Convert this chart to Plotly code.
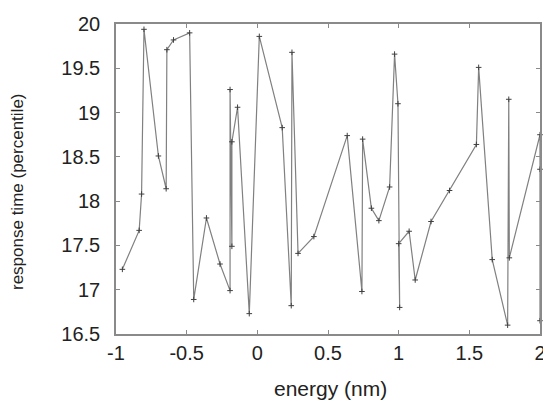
import plotly.graph_objects as go

energy = [-0.955, -0.836, -0.819, -0.802, -0.70, -0.645, -0.64, -0.593, -0.479, -0.45,
          -0.36, -0.264, -0.193, -0.193, -0.18, -0.18, -0.14, -0.057, 0.014, 0.176,
          0.24, 0.245, 0.288, 0.40, 0.636, 0.74, 0.745, 0.807, 0.86, 0.936,
          0.971, 0.995, 1.007, 1.0, 1.074, 1.117, 1.229, 1.36, 1.55, 1.566,
          1.662, 1.771, 1.779, 1.783, 2.0, 2.0, 2.0]
response = [17.23, 17.67, 18.08, 19.94, 18.51, 18.14, 19.71, 19.82, 19.90, 16.89,
            17.81, 17.29, 16.99, 19.26, 17.49, 18.67, 19.06, 16.73, 19.86, 18.83,
            16.82, 19.68, 17.41, 17.60, 18.74, 16.98, 18.70, 17.92, 17.78, 18.16,
            19.66, 19.10, 16.80, 17.52, 17.66, 17.11, 17.77, 18.12, 18.64, 19.51,
            17.34, 16.60, 19.15, 17.36, 18.75, 18.36, 16.65]

x_ticks = [-1, -0.5, 0, 0.5, 1, 1.5, 2]
y_ticks = [16.5, 17, 17.5, 18, 18.5, 19, 19.5, 20]
x_title = "energy (nm)"
y_title = "response time (percentile)"

FONT = "Liberation Sans, Arial"

fig = go.Figure(go.Scatter(
    x=energy, y=response, mode="lines+markers",
    line=dict(color="#808080", width=1.2),
    marker=dict(symbol="cross-thin", size=4, line=dict(color="#404040", width=1)),
    showlegend=False, cliponaxis=False,
))

axis_common = dict(showline=True, linecolor="#8a8a8a", linewidth=1.5, mirror="allticks",
                   ticks="inside", ticklen=4, tickcolor="#8a8a8a", showgrid=False,
                   zeroline=False, ticklabeloverflow="allow", automargin=False,
                   tickfont=dict(family=FONT, size=20, color="#222"))

fig.update_layout(
    width=543, height=400,
    margin=dict(l=116, r=3, t=24, b=66),
    paper_bgcolor="white", plot_bgcolor="white",
    xaxis=dict(range=[-1, 2], tickvals=x_ticks, ticktext=[f"{v:g}" for v in x_ticks],
               **axis_common),
    yaxis=dict(range=[16.5, 20], tickvals=y_ticks, ticktext=[f"{v:g}" for v in y_ticks],
               ticklabelstandoff=10,
               **axis_common),
    annotations=[
        dict(text=x_title, xref="paper", yref="paper", x=0.505, y=0, yshift=-54,
             xanchor="center", yanchor="middle", showarrow=False,
             font=dict(family=FONT, size=21, color="#222")),
        dict(text=y_title, xref="paper", yref="paper", x=0, xshift=-99, y=0.458,
             xanchor="center", yanchor="middle", textangle=-90, showarrow=False,
             font=dict(family=FONT, size=17, color="#222")),
    ],
)

fig.write_html("out.html",
               config={"displayModeBar": False},
               post_script="document.body.style.margin='0';document.body.style.overflow='hidden';")
